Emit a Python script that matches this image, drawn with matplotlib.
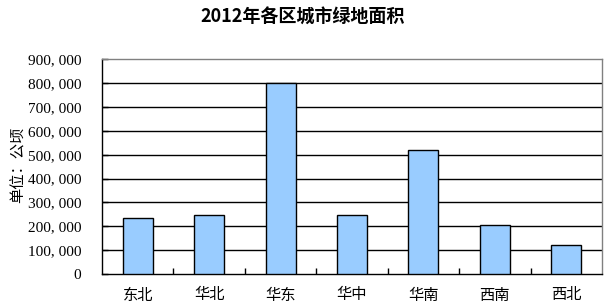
import matplotlib
matplotlib.use('Agg')
import matplotlib.pyplot as plt
from matplotlib.ticker import FuncFormatter, FixedLocator

plt.rcParams['font.family'] = ['Liberation Serif', 'Noto Sans CJK SC']

regions = ['东北', '华北', '华东', '华中', '华南', '西南', '西北']
area = [234000, 246000, 800000, 246000, 520000, 204000, 120000]
yticks = list(range(0, 900001, 100000))

fig = plt.figure(figsize=(6.05, 3.08), dpi=100)
ax = fig.add_axes([0.1686, 0.1104, 0.8264, 0.6971])

x = range(len(regions))
ax.bar(x, area, width=0.42, color='#99CCFF', edgecolor='black', linewidth=1, zorder=3)

ax.set_xlim(-0.5, len(regions) - 0.5)
ax.set_ylim(0, 900000)
ax.set_yticks(yticks)
ax.yaxis.set_major_formatter(FuncFormatter(lambda v, p: '0' if v == 0 else f'{int(v)//1000}, {int(v)%1000:03d}'))
for y in yticks[1:-1]:
    ax.axhline(y, color='black', linewidth=1, zorder=1)

ax.set_xticks(list(x))
ax.set_xticklabels(regions, fontsize=11, family=['Noto Sans CJK SC'])
ax.xaxis.set_minor_locator(FixedLocator([i + 0.5 for i in range(len(regions) - 1)]))
ax.tick_params(axis='x', which='major', length=0, pad=9)
ax.tick_params(axis='x', which='minor', direction='in', length=4, width=1)
ax.tick_params(axis='y', direction='in', length=4, width=1, pad=15, labelsize=11)

for s in ['left', 'bottom']:
    ax.spines[s].set_color('black')
    ax.spines[s].set_linewidth(1)
for s in ['top', 'right']:
    ax.spines[s].set_color('#808080')
    ax.spines[s].set_linewidth(1)

fig.text(0.03, 0.464, '单位：公顷', rotation=90, ha='center', va='center',
         fontsize=11, family=['Noto Sans CJK SC'])
fig.text(0.5, 0.945, '2012年各区城市绿地面积', ha='center', va='center',
         fontsize=13, fontweight='bold', family=['Noto Sans CJK SC'])

fig.savefig('out.png', dpi=100)
